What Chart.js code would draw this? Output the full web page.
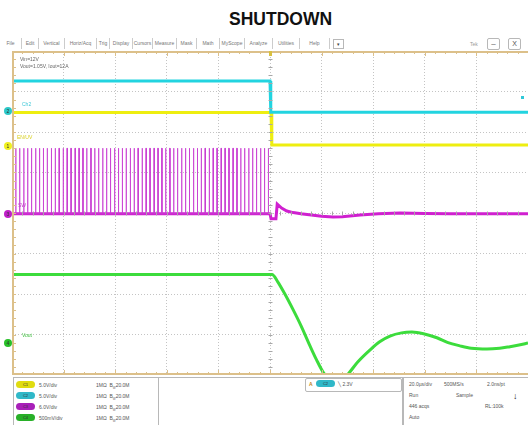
<!DOCTYPE html>
<html>
<head>
<meta charset="utf-8">
<script src="https://cdn.jsdelivr.net/npm/chart.js@4.4.1/dist/chart.umd.min.js"></script>
<style>
  body { margin: 0; background: #fff; font-family: "Liberation Sans", Arial, sans-serif; }
  #page { position: relative; width: 528px; height: 425px; overflow: hidden; background: #fff; }
  .abs { position: absolute; white-space: nowrap; }
  #title { left: 229px; top: 10px; font-size: 17.5px; line-height: 18px; font-weight: bold; color: #111; }
  .menu { top: 38px; height: 11px; font-size: 5px; line-height: 11px; color: #777; border-right: 1px solid #ccc; text-align: center; }
  .tiny { font-size: 5px; line-height: 6px; color: #666; }
  .mark { width: 8px; height: 8px; border-radius: 50%; font-size: 5px; line-height: 8px; text-align: center; color: #333; z-index: 3; }
  .box { border: 1px solid #b8b8b8; background: #fff; }
  .pill { width: 19px; height: 7px; border-radius: 4px; font-size: 4px; line-height: 7px; text-align: center; color: #333; }
  .info { font-size: 5px; line-height: 6px; color: #555; }
  #plot { position: absolute; left: 12px; top: 51px; }
</style>
</head>
<body>
<div id="page">
  <div id="title" class="abs">SHUTDOWN</div>
  <div id="menubar"></div>
  <div class="abs tiny" style="left:470px;top:41px;color:#999">Tek</div>
  <div class="abs box" style="left:487px;top:38px;width:11px;height:10px;font-size:8px;line-height:10px;text-align:center;color:#555;border-radius:2px">–</div>
  <div class="abs box" style="left:508px;top:38px;width:11px;height:10px;font-size:7px;line-height:10px;text-align:center;color:#555;border-radius:2px">X</div>

  <canvas id="plot" width="516" height="324"></canvas>

  <div class="abs tiny" style="left:20px;top:56px;z-index:2">Vin=12V</div>
  <div class="abs tiny" style="left:20px;top:63px;z-index:2">Vout=1.05V, Iout=12A</div>
  <div class="abs tiny" style="left:22px;top:101px;color:#40c8d8;z-index:2">Ch2</div>
  <div class="abs tiny" style="left:17px;top:134px;color:#d8d020;z-index:2">EN/UV</div>
  <div class="abs tiny" style="left:18px;top:202px;color:#c040c8;z-index:2">SW</div>
  <div class="abs tiny" style="left:22px;top:332px;color:#40c040;z-index:2">Vout</div>

  <div class="abs mark" style="left:4px;top:107px;background:#2cc8c8">2</div>
  <div class="abs mark" style="left:4px;top:142px;background:#f0f020">1</div>
  <div class="abs mark" style="left:4px;top:210px;background:#c020c8">3</div>
  <div class="abs mark" style="left:4px;top:339px;background:#28c028">4</div>
  <div class="abs" style="left:521px;top:96px;width:3px;height:3px;background:#30c8d8"></div>

  <div class="abs box" style="left:13px;top:377px;width:145px;height:50px"></div>
  <div class="abs box" style="left:158px;top:377px;width:243px;height:50px"></div>
  <div class="abs box" style="left:305px;top:378px;width:95px;height:12px;border-radius:2px"></div>
  <div class="abs box" style="left:403px;top:377px;width:127px;height:50px"></div>
  <div id="chanrows"></div>

  <div class="abs info" style="left:309px;top:381px;color:#c08020;font-weight:bold">A</div>
  <div class="abs pill" style="left:316px;top:380px;background:#30b8c8">C2</div>
  <div class="abs info" style="left:338px;top:381px">╲ 2.3V</div>

  <div class="abs info" style="left:409px;top:381px">20.0µs/div</div>
  <div class="abs info" style="left:444px;top:381px">500MS/s</div>
  <div class="abs info" style="left:487px;top:381px">2.0ns/pt</div>
  <div class="abs info" style="left:409px;top:392px">Run</div>
  <div class="abs info" style="left:456px;top:392px">Sample</div>
  <div class="abs info" style="left:409px;top:403px">446 acqs</div>
  <div class="abs info" style="left:485px;top:403px">RL:100k</div>
  <div class="abs info" style="left:409px;top:414px">Auto</div>
  <div class="abs" style="left:513px;top:391px;font-size:9px;line-height:10px;color:#222;font-weight:bold">↓</div>
</div>

<script>
// axis: time in µs (20 µs/div, 10 div), vertical in screen divisions (8 div)
const timeMin = -100, timeMax = 100, timeStep = 20;
const divMin = 0, divMax = 8;

// Ch2 (cyan) - input rail
const ch2Time = [-100, 0, 0.3, 100];
const ch2Div = [7.26, 7.26, 6.49, 6.49];

// Ch1 (yellow) - enable
const ch1Time = [-100, 0.4, 0.7, 100];
const ch1Div = [6.48, 6.48, 5.68, 5.68];

// Ch3 (magenta) - switch node
const swBaseDiv = 3.98;
const swTopDiv = 5.60;
const swPulseWidth = 0.15;
const swPulseTimes = [-98.6, -97.1, -95.5, -94.0, -92.5, -90.9, -89.4, -87.9, -86.4, -84.8,
  -83.3, -81.8, -80.2, -78.7, -77.2, -75.6, -74.1, -72.6, -71.1, -69.5,
  -68.0, -66.5, -64.9, -63.4, -61.9, -60.3, -58.8, -57.3, -55.8, -54.2,
  -52.7, -51.2, -49.6, -48.1, -46.6, -45.0, -43.5, -42.0, -40.5, -38.9,
  -37.4, -35.9, -34.3, -32.8, -31.3, -29.7, -28.2, -26.7, -25.2, -23.6,
  -22.1, -20.6, -19.0, -17.5, -16.0, -14.4, -12.9, -11.4, -9.9, -8.3,
  -6.8, -5.3, -3.7, -2.2, -0.7];
const swTailTime = [-100, 0, 0.4, 2.3, 2.8, 4.5, 6.5, 9, 12, 16, 20, 24.4, 28, 34.9, 42, 50.4, 60, 70, 85, 100];
const swTailDiv = [3.98, 3.98, 3.86, 3.86, 4.22, 4.12, 4.05, 4.01, 3.98, 3.95, 3.92, 3.90, 3.91, 3.95, 3.98, 4.0, 3.99, 3.98, 3.98, 3.98];

// Ch4 (green) - output voltage
const ch4Time = [-100, 0.8, 3, 5.5, 8.9, 12, 15.5, 18, 20.5, 23, 25.5, 28, 30.2, 34, 38.8, 42.5, 46.5, 51, 55, 59.5, 64.7, 69, 73.6, 78, 84.1, 89, 93, 96.5, 100];
const ch4Div = [2.48, 2.48, 2.3, 2.03, 1.62, 1.22, 0.72, 0.38, 0.08, -0.1, -0.15, -0.1, 0.02, 0.32, 0.62, 0.82, 0.96, 1.04, 1.06, 1.02, 0.92, 0.8, 0.72, 0.66, 0.64, 0.66, 0.7, 0.74, 0.79];

// channel readout rows
const chanLabels = ['C1', 'C2', 'C3', 'C4'];
const chanScales = ['5.0V/div', '5.0V/div', '6.0V/div', '500mV/div'];
const chanColors = ['#e0dc10', '#30b8c8', '#a820b8', '#28b028'];

const menuItems = ['File', 'Edit', 'Vertical', 'Horiz/Acq', 'Trig', 'Display', 'Cursors', 'Measure', 'Mask', 'Math', 'MyScope', 'Analyze', 'Utilities', 'Help'];
const menuEdges = [0, 22, 39, 65, 97, 110, 133, 153, 177, 197, 220, 245, 273, 300, 330];

// menu bar
var mb = document.getElementById('menubar');
for (var i = 0; i < menuItems.length; i++) {
    var d = document.createElement('div');
    d.className = 'abs menu';
    d.style.left = menuEdges[i] + 'px';
    d.style.width = (menuEdges[i + 1] - menuEdges[i] - 1) + 'px';
    d.textContent = menuItems[i];
    mb.appendChild(d);
}
var dd = document.createElement('div');
dd.className = 'abs box';
dd.style.cssText = 'left:333px;top:39px;width:9px;height:8px;font-size:5px;line-height:8px;text-align:center;color:#444';
dd.textContent = '▾';
mb.appendChild(dd);

// channel rows
var cr = document.getElementById('chanrows');
for (var i = 0; i < chanLabels.length; i++) {
    var rowTop = 381 + i * 11;
    var p = document.createElement('div');
    p.className = 'abs pill';
    p.style.left = '16px';
    p.style.top = rowTop + 'px';
    p.style.background = chanColors[i];
    p.textContent = chanLabels[i];
    cr.appendChild(p);
    var s = document.createElement('div');
    s.className = 'abs info';
    s.style.left = '39px';
    s.style.top = (rowTop + 1) + 'px';
    s.textContent = chanScales[i];
    cr.appendChild(s);
    var b = document.createElement('div');
    b.className = 'abs info';
    b.style.left = '96px';
    b.style.top = (rowTop + 1) + 'px';
    b.innerHTML = '1MΩ &nbsp;B<sub style="font-size:3px">W</sub>20.0M';
    cr.appendChild(b);
}

function pts(xs, ys) {
    var out = [];
    for (var i = 0; i < xs.length; i++) out.push({ x: xs[i], y: ys[i] });
    return out;
}

// pulse train built from the pulse times
var swPulses = [];
for (var i = 0; i < swPulseTimes.length; i++) {
    var t = swPulseTimes[i];
    swPulses.push({ x: t, y: swBaseDiv }, { x: t, y: swTopDiv }, { x: t + swPulseWidth, y: swTopDiv }, { x: t + swPulseWidth, y: swBaseDiv });
}

// frame + minor ticks like the scope graticule
const graticule = {
    id: 'graticule',
    afterDraw(chart) {
        const ctx = chart.ctx, a = chart.chartArea;
        const xs = chart.scales.x, ys = chart.scales.y;
        ctx.save();
        ctx.strokeStyle = '#a8a8a8';
        ctx.lineWidth = 1;
        var cx = Math.round(xs.getPixelForValue(0)) + 0.5;
        var cy = Math.round(ys.getPixelForValue(4)) + 0.5;
        ctx.beginPath();
        for (var v = divMin; v <= divMax; v += 0.2) {
            var y = Math.round(ys.getPixelForValue(v)) + 0.5;
            ctx.moveTo(cx - 2, y); ctx.lineTo(cx + 2, y);
        }
        for (var t = timeMin; t <= timeMax; t += 4) {
            var x = Math.round(xs.getPixelForValue(t)) + 0.5;
            ctx.moveTo(x, cy - 2); ctx.lineTo(x, cy + 2);
        }
        ctx.stroke();
        // tan border
        ctx.strokeStyle = '#dcc08a';
        ctx.lineWidth = 2;
        ctx.beginPath();
        ctx.moveTo(a.left + 1, a.bottom); ctx.lineTo(a.left + 1, a.top + 1);
        ctx.lineTo(a.right, a.top + 1);
        ctx.moveTo(a.left, a.bottom - 1); ctx.lineTo(a.right, a.bottom - 1);
        ctx.stroke();
        ctx.lineWidth = 1;
        ctx.beginPath();
        for (var t = timeMin; t <= timeMax; t += 4) {
            var x = Math.round(xs.getPixelForValue(t)) + 0.5;
            var len = (t % 20 === 0) ? 5 : 3;
            ctx.moveTo(x, a.top); ctx.lineTo(x, a.top + len);
            ctx.moveTo(x, a.bottom); ctx.lineTo(x, a.bottom - len);
        }
        for (var v = divMin; v <= divMax; v += 0.2) {
            var y = Math.round(ys.getPixelForValue(v)) + 0.5;
            ctx.moveTo(a.left, y); ctx.lineTo(a.left + 4, y);
        }
        ctx.stroke();
        // trigger position marker
        ctx.fillStyle = '#d8c040';
        ctx.fillRect(cx - 1.5, a.top, 3, 5);
        ctx.restore();
    }
};

const config = {
    type: 'line',
    data: {
        datasets: [
            { data: swPulses, borderColor: 'rgba(200,60,210,0.8)', borderWidth: 1 },
            { data: pts(swTailTime, swTailDiv), borderColor: '#d020d0', borderWidth: 3 },
            { data: pts(ch2Time, ch2Div), borderColor: '#22d4e0', borderWidth: 3 },
            { data: pts(ch1Time, ch1Div), borderColor: '#eeee10', borderWidth: 3 },
            { data: pts(ch4Time, ch4Div), borderColor: '#3cdc3c', borderWidth: 3, cubicInterpolationMode: 'monotone' }
        ]
    },
    options: {
        responsive: false,
        animation: false,
        elements: { point: { radius: 0 }, line: { tension: 0 } },
        layout: { padding: 0 },
        plugins: { legend: { display: false }, tooltip: { enabled: false } },
        scales: {
            x: {
                type: 'linear', min: timeMin, max: timeMax,
                ticks: { display: false, stepSize: timeStep },
                grid: { color: '#c4c4c4', drawTicks: false },
                border: { display: false, dash: [1, 2] }
            },
            y: {
                type: 'linear', min: divMin, max: divMax,
                ticks: { display: false, stepSize: 1 },
                grid: { color: '#c4c4c4', drawTicks: false },
                border: { display: false, dash: [1, 2] }
            }
        }
    },
    plugins: [graticule]
};

var scope = new Chart(document.getElementById('plot'), config);
</script>
</body>
</html>
